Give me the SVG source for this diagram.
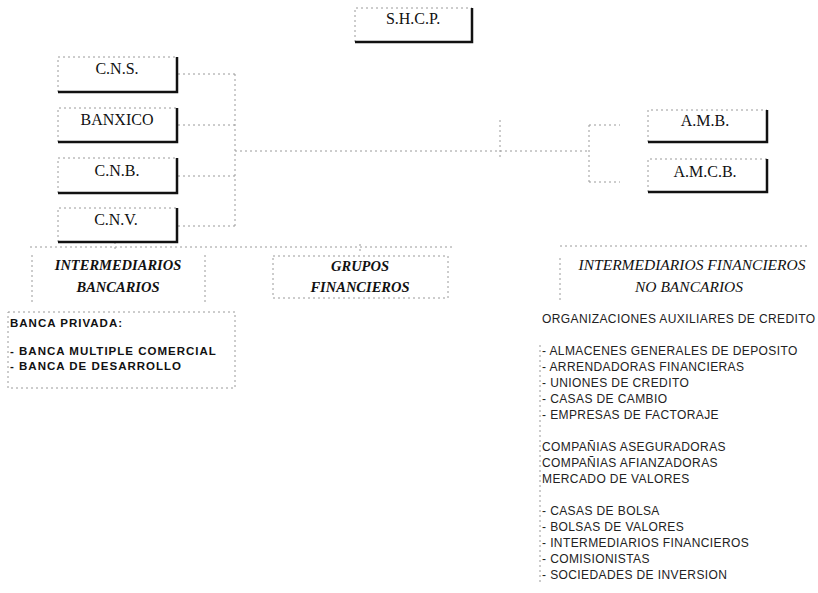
<svg xmlns="http://www.w3.org/2000/svg" width="818" height="593" viewBox="0 0 818 593">
<style>
.faint{fill:none;stroke:#9a9a9a;stroke-width:1;stroke-dasharray:2 3}
.thick{fill:none;stroke:#111;stroke-width:2.5}
.lbl{font-family:"Liberation Serif","Times New Roman",serif;font-size:16px;fill:#111;text-anchor:middle}
.hb{font-family:"Liberation Serif","Times New Roman",serif;font-size:14.5px;font-weight:bold;font-style:italic;fill:#111;text-anchor:middle}
.hi{font-family:"Liberation Serif","Times New Roman",serif;font-size:15.5px;font-style:italic;fill:#111;text-anchor:middle}
.lb{font-family:"Liberation Sans",Arial,sans-serif;font-size:11.5px;font-weight:bold;letter-spacing:1px;fill:#111}
.ls{font-family:"Liberation Sans",Arial,sans-serif;font-size:12px;letter-spacing:0.4px;fill:#222}
</style>
<rect width="818" height="593" fill="#fff"/>
<g id="connectors">
<path class="faint" d="M178,74H235M178,125H235M178,176H235M178,226H235M235,74V226"/>
<path class="faint" d="M235,151H589M500,120V160"/>
<path class="faint" d="M589,125V182M589,125H620M589,182H620"/>
<path class="faint" d="M30,247H455M115,242V250M360,244V252M560,246H810"/>
</g>
<g id="shcp">
<path class="faint" d="M355,42V8H472"/>
<path class="thick" d="M472,8V42H355"/>
<text class="lbl" x="413" y="24">S.H.C.P.</text>
</g>
<g id="cns">
<path class="faint" d="M58,92V57H177"/>
<path class="thick" d="M177,57V92H58"/>
<text class="lbl" x="117" y="74">C.N.S.</text>
</g>
<g id="banxico">
<path class="faint" d="M58,142V108H177"/>
<path class="thick" d="M177,108V142H58"/>
<text class="lbl" x="117" y="125">BANXICO</text>
</g>
<g id="cnb">
<path class="faint" d="M58,193V158H177"/>
<path class="thick" d="M177,158V193H58"/>
<text class="lbl" x="117" y="176">C.N.B.</text>
</g>
<g id="cnv">
<path class="faint" d="M58,242V208H177"/>
<path class="thick" d="M177,208V242H58"/>
<text class="lbl" x="116" y="225">C.N.V.</text>
</g>
<g id="amb">
<path class="faint" d="M648,142V110H767"/>
<path class="thick" d="M767,110V142H648"/>
<text class="lbl" x="705" y="126">A.M.B.</text>
</g>
<g id="amcb">
<path class="faint" d="M648,192V159H767"/>
<path class="thick" d="M767,159V192H648"/>
<text class="lbl" x="705" y="177">A.M.C.B.</text>
</g>
<g id="intermediarios-bancarios">
<path class="faint" d="M32,255V302M205,255V302"/>
<text class="hb" x="118" y="270">INTERMEDIARIOS</text>
<text class="hb" x="118" y="292">BANCARIOS</text>
</g>
<g id="grupos-financieros">
<path class="faint" d="M273,256H448V298H273Z"/>
<text class="hb" x="360" y="271">GRUPOS</text>
<text class="hb" x="360" y="292">FINANCIEROS</text>
</g>
<g id="intermediarios-no-bancarios">
<path class="faint" d="M560,258V302"/>
<text class="hi" x="692" y="270">INTERMEDIARIOS FINANCIEROS</text>
<text class="hi" x="689" y="292">NO BANCARIOS</text>
</g>
<g id="banca-privada">
<path class="faint" d="M8,312H235V388H8Z"/>
<text class="lb" x="10" y="327">BANCA PRIVADA:</text>
<text class="lb" x="10" y="355">- BANCA MULTIPLE COMERCIAL</text>
<text class="lb" x="10" y="370">- BANCA DE DESARROLLO</text>
</g>
<g id="no-bancarios-list">
<path class="faint" d="M540,345V585"/>
<text class="ls" x="542" y="323">ORGANIZACIONES AUXILIARES DE CREDITO</text>
<text class="ls" x="542" y="355">- ALMACENES GENERALES DE DEPOSITO</text>
<text class="ls" x="542" y="371">- ARRENDADORAS FINANCIERAS</text>
<text class="ls" x="542" y="387">- UNIONES DE CREDITO</text>
<text class="ls" x="542" y="403">- CASAS DE CAMBIO</text>
<text class="ls" x="542" y="419">- EMPRESAS DE FACTORAJE</text>
<text class="ls" x="542" y="451">COMPAÑIAS ASEGURADORAS</text>
<text class="ls" x="542" y="467">COMPAÑIAS AFIANZADORAS</text>
<text class="ls" x="542" y="483">MERCADO DE VALORES</text>
<text class="ls" x="542" y="515">- CASAS DE BOLSA</text>
<text class="ls" x="542" y="531">- BOLSAS DE VALORES</text>
<text class="ls" x="542" y="547">- INTERMEDIARIOS FINANCIEROS</text>
<text class="ls" x="542" y="563">- COMISIONISTAS</text>
<text class="ls" x="542" y="579">- SOCIEDADES DE INVERSION</text>
</g>
</svg>
